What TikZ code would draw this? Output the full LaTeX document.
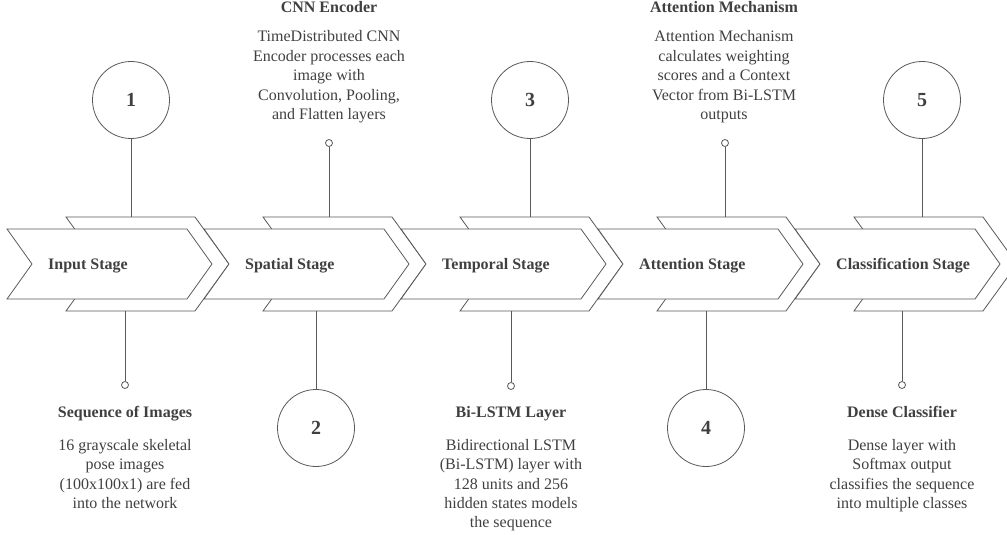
\documentclass[tikz,border=0pt]{standalone}
\usepackage{fontspec}
\setmainfont{Liberation Serif}
\usetikzlibrary{positioning}
\definecolor{inkgray}{HTML}{404040}
\definecolor{rulegray}{HTML}{595959}

\tikzset{
  backarrow/.style={draw=rulegray, fill=white, line width=0.8pt},
  frontarrow/.style={draw=rulegray, fill=white, line width=0.8pt},
  stagename/.style={anchor=west, inner sep=0pt, text=inkgray,
    font=\bfseries\fontsize{16}{19.4}\selectfont},
  numring/.style={draw=rulegray, circle, line width=0.8pt, minimum size=77pt,
    inner sep=0pt, text=inkgray, font=\bfseries\fontsize{20}{24}\selectfont},
  knob/.style={draw=rulegray, circle, fill=white, line width=0.8pt,
    minimum size=7pt, inner sep=0pt},
  wire/.style={draw=rulegray, line width=0.8pt},
  headline/.style={inner sep=0pt, text=inkgray,
    font=\bfseries\fontsize{16}{19.4}\selectfont, execute at begin node=\strut},
  blurb/.style={inner sep=0pt, align=center, text=inkgray,
    font=\fontsize{16}{19.4}\selectfont, execute at begin node=\strut},
}

\begin{document}
\begin{tikzpicture}[x=1pt, y=-1pt]
    \useasboundingbox (0,0) rectangle (1007,535);

    % the five stages
    \foreach \k/\tag/\name in {0/input/Input Stage, 1/spatial/Spatial Stage,
        2/temporal/Temporal Stage, 3/attention/Attention Stage,
        4/classify/Classification Stage} {
      \begin{scope}[xshift={197*\k}]
        \draw[backarrow] (66,217) -- (195,217) -- (229,264) -- (195,311)
            -- (66,311) -- (100,264) -- cycle;
        \draw[frontarrow] (7,229) -- (187,229) -- (212,264) -- (187,299)
            -- (7,299) -- (32,264) -- cycle;
        \node[stagename] (\tag) at (48,265.5) {\name};
      \end{scope}
    }

    \coordinate (top1) at (131,217);
    \coordinate (top2) at (329,217);
    \coordinate (top3) at (530,217);
    \coordinate (top4) at (725,217);
    \coordinate (top5) at (922,217);
    \coordinate (bot1) at (125,311);
    \coordinate (bot2) at (316,311);
    \coordinate (bot3) at (511,311);
    \coordinate (bot4) at (706,311);
    \coordinate (bot5) at (902,311);

    % numbered rings and pins
    \node[numring] (one) at (131,100) {1};
    \node[numring] (two) at (316,428) {2};
    \node[numring] (three) at (530,100) {3};
    \node[numring] (four) at (706,428) {4};
    \node[numring] (five) at (922,100) {5};
    \node[knob] (seqpin) at (125,385) {};
    \node[knob] (cnnpin) at (329,143) {};
    \node[knob] (lstmpin) at (511,386) {};
    \node[knob] (attpin) at (725,143) {};
    \node[knob] (densepin) at (902,385) {};

    \draw[wire] (one) -- (top1);
    \draw[wire] (cnnpin) -- (top2);
    \draw[wire] (three) -- (top3);
    \draw[wire] (attpin) -- (top4);
    \draw[wire] (five) -- (top5);
    \draw[wire] (bot1) -- (seqpin);
    \draw[wire] (bot2) -- (two);
    \draw[wire] (bot3) -- (lstmpin);
    \draw[wire] (bot4) -- (four);
    \draw[wire] (bot5) -- (densepin);

    % descriptions
    \node[headline, anchor=base] (cnnhead) at (329,12.5) {CNN Encoder};
    \node[blurb, below=12pt of cnnhead] (cnntext) {TimeDistributed CNN\\Encoder processes each\\image with\\Convolution, Pooling,\\and Flatten layers};
    \node[headline, anchor=base] (atthead) at (724,12.5) {Attention Mechanism};
    \node[blurb, below=12pt of atthead] (atttext) {Attention Mechanism\\calculates weighting\\scores and a Context\\Vector from Bi-LSTM\\outputs};
    \node[headline, anchor=base] (seqhead) at (125,417.5) {Sequence of Images};
    \node[blurb, below=15.5pt of seqhead] (seqtext) {16 grayscale skeletal\\pose images\\(100x100x1) are fed\\into the network};
    \node[headline, anchor=base] (lstmhead) at (511,417.5) {Bi-LSTM Layer};
    \node[blurb, below=15.5pt of lstmhead] (lstmtext) {Bidirectional LSTM\\(Bi-LSTM) layer with\\128 units and 256\\hidden states models\\the sequence};
    \node[headline, anchor=base] (densehead) at (902,417.5) {Dense Classifier};
    \node[blurb, below=15.5pt of densehead] (densetext) {Dense layer with\\Softmax output\\classifies the sequence\\into multiple classes};
\end{tikzpicture}
\end{document}
